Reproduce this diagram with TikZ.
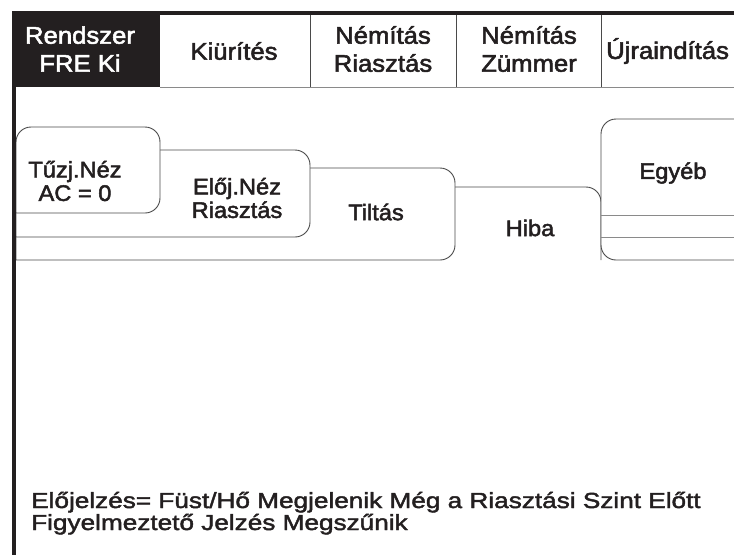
\documentclass[tikz,border=0pt]{standalone}
\usepackage{fontspec}
\setmainfont{Liberation Sans}
\newfontfamily\hdrfont[FakeStretch=1.07,FakeBold=2.2]{Liberation Sans}
\newfontfamily\tabfont[FakeStretch=1.05,FakeBold=2.2]{Liberation Sans}
\newfontfamily\btmfont[FakeStretch=1.2,FakeBold=2]{Liberation Sans}
\definecolor{ink}{HTML}{231F20}
\definecolor{edge}{HTML}{4A4A4A}
\definecolor{rule}{HTML}{8A8A8A}
\tikzset{
  hdr/.style={font=\hdrfont\fontsize{24}{28}\selectfont, text=ink, align=center, inner sep=0pt},
  tabtxt/.style={font=\tabfont\fontsize{22.5}{23.5}\selectfont, text=ink, align=center, inner sep=0pt},
  btm/.style={font=\btmfont\fontsize{21.8}{21.8}\selectfont, text=ink, inner sep=0pt, anchor=base west},
  card/.style={draw=edge, fill=white, line width=0.9pt, rounded corners=15pt},
  thick border/.style={draw=ink, line width=3.6pt},
}
\begin{document}
\begin{tikzpicture}[x=1pt,y=-1pt]
\useasboundingbox (0,0) rectangle (734,555);
% header
\fill[ink] (12,11) rectangle (160,87);
\draw[rule, line width=0.9pt] (160,87) -- (734,87);
\draw[edge, line width=0.9pt] (310,13) -- (310,87);
\draw[edge, line width=0.9pt] (456,13) -- (456,87);
\draw[edge, line width=0.9pt] (601,13) -- (601,87);
\node[hdr, text=white] (rendszer) at (80,49) {Rendszer\\FRE Ki};
\node[hdr] (kiurites) at (234,51) {Kiürítés};
\node[hdr] (nemriaszt) at (383,49) {Némítás\\Riasztás};
\node[hdr] (nemzummer) at (529,49) {Némítás\\Zümmer};
\node[hdr, anchor=west] (ujra) at (606,51) {Újraindítás};
% cards (back to front)
\path[card] (16,260) -- (16,187) -- (601,187) -- (601,260);
\path[card] (734,260) -- (601,260) -- (601,119) -- (734,119);
\draw[rule, line width=0.9pt] (601,215) -- (734,215);
\draw[rule, line width=0.9pt] (601,237) -- (734,237);
\path[card] (16,260) -- (16,168) -- (455,168) -- (455,260) -- (16,260);
\path[card] (16,237) -- (16,150) -- (310,150) -- (310,237) -- (16,237);
\path[card] (16,213) -- (16,127) -- (160,127) -- (160,213) -- (16,213);
\node[tabtxt] (tuzj) at (75,181) {Tűzj.Néz\\AC = 0};
\node[tabtxt] (eloj) at (237,198) {Előj.Néz\\Riasztás};
\node[tabtxt] (tiltas) at (376,212) {Tiltás};
\node[tabtxt] (hiba) at (530,228) {Hiba};
\node[tabtxt] (egyeb) at (673,173) {Egyéb};
% thick borders
\draw[thick border] (12,13) -- (734,13);
\draw[thick border] (14,11) -- (14,555);
% bottom text
\node[btm] (line1) at (31,508) {Előjelzés= Füst/Hő Megjelenik Még a Riasztási Szint Előtt};
\node[btm] (line2) at (31,530) {Figyelmeztető Jelzés Megszűnik};
\end{tikzpicture}
\end{document}
